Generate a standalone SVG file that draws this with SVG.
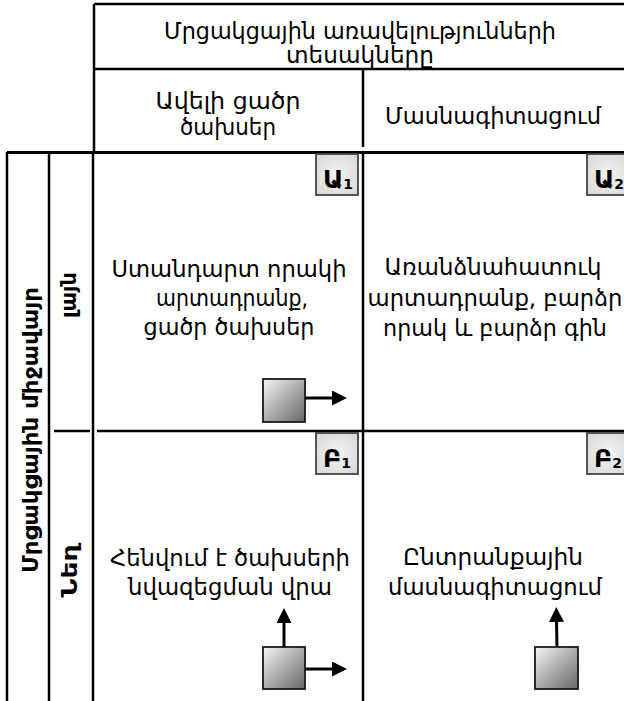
<svg xmlns="http://www.w3.org/2000/svg" width="624" height="701" viewBox="0 0 624 701">
<style>
.ln{stroke:#000;stroke-width:2.5;fill:none}
.t{font-family:"DejaVu Sans","Noto Sans",sans-serif;font-size:23px;fill:#000;text-anchor:middle}
.b{font-family:"DejaVu Sans","Noto Sans",sans-serif;font-size:22px;font-weight:bold;fill:#000;text-anchor:middle}
.badge{fill:url(#bg);stroke:#444;stroke-width:1.8}
.bt{font-family:"DejaVu Sans","Noto Sans",sans-serif;font-weight:bold;fill:#000}
.sq{fill:url(#sg);stroke:#1a1a1a;stroke-width:1.8}
.ar{stroke:#000;stroke-width:3;fill:none;marker-end:url(#ah)}
</style>
<defs>
<radialGradient id="bg" cx="0.5" cy="0.5" r="0.7">
<stop offset="0" stop-color="#f4f4f4"/>
<stop offset="1" stop-color="#d6d6d6"/>
</radialGradient>
<linearGradient id="sg" x1="0" y1="0" x2="1" y2="1">
<stop offset="0" stop-color="#f6f6f6"/>
<stop offset="0.45" stop-color="#b4b4b4"/>
<stop offset="1" stop-color="#666"/>
</linearGradient>
<marker id="ah" viewBox="0 0 10 10" refX="0" refY="5" markerWidth="5" markerHeight="5" orient="auto">
<path d="M0,0 L10,5 L0,10 z" fill="#000"/>
</marker>
</defs>
<rect width="624" height="701" fill="#fff"/>

<g id="grid">
<path class="ln" d="M94,4 H626 M94,4 V152 M94,69 H626 M363,69 V147"/>
<path class="ln" d="M7,152.5 H626" style="stroke-width:3"/>
<path class="ln" d="M7,152 V701 M49,152 V701 M93,152 V701 M363,152 V701"/>
<path class="ln" d="M54,431 H90 M97,431 H626"/>
</g>

<g id="header">
<text class="t" x="360" y="39" textLength="392" lengthAdjust="spacingAndGlyphs">Մրցակցային առավելությունների</text>
<text class="t" x="360" y="63" textLength="148" lengthAdjust="spacingAndGlyphs">տեսակները</text>
</g>
<g id="col-cost">
<text class="t" x="228" y="109" textLength="145" lengthAdjust="spacingAndGlyphs">Ավելի ցածր</text>
<text class="t" x="228" y="135" textLength="96" lengthAdjust="spacingAndGlyphs">ծախսեր</text>
</g>
<g id="col-diff">
<text class="t" x="493" y="124" textLength="216" lengthAdjust="spacingAndGlyphs">Մասնագիտացում</text>
</g>

<g id="row-axis">
<text class="b" transform="translate(38,430) rotate(-90)" textLength="286" lengthAdjust="spacingAndGlyphs">Մրցակցային միջավայր</text>
</g>
<g id="row-wide">
<text class="b" transform="translate(76,295) rotate(-90)" textLength="46" lengthAdjust="spacingAndGlyphs">լայն</text>
</g>
<g id="row-narrow">
<text class="b" transform="translate(77,571) rotate(-90)" textLength="53" lengthAdjust="spacingAndGlyphs">Նեղ</text>
</g>

<g id="cell-A1">
<rect class="badge" x="316" y="154" width="42" height="41"/>
<text class="bt" x="323" y="188" font-size="25">Ա<tspan font-size="14" dy="1">1</tspan></text>
<text class="t" x="229" y="277" textLength="235" lengthAdjust="spacingAndGlyphs">Ստանդարտ որակի</text>
<text class="t" x="232" y="306" textLength="152" lengthAdjust="spacingAndGlyphs">արտադրանք,</text>
<text class="t" x="229" y="335" textLength="171" lengthAdjust="spacingAndGlyphs">ցածր ծախսեր</text>
<rect class="sq" x="263" y="379" width="42" height="43"/>
</g>

<g id="cell-A2">
<rect class="badge" x="587" y="154" width="42" height="41"/>
<text class="bt" x="594" y="188" font-size="25">Ա<tspan font-size="14" dy="1">2</tspan></text>
<text class="t" x="493" y="275" textLength="217" lengthAdjust="spacingAndGlyphs">Առանձնահատուկ</text>
<text class="t" x="495" y="306" textLength="255" lengthAdjust="spacingAndGlyphs">արտադրանք, բարձր</text>
<text class="t" x="495" y="336" textLength="224" lengthAdjust="spacingAndGlyphs">որակ և բարձր գին</text>
</g>

<g id="cell-B1">
<rect class="badge" x="316" y="433" width="42" height="41"/>
<text class="bt" x="323" y="467" font-size="25">Բ<tspan font-size="14" dy="1">1</tspan></text>
<text class="t" x="230" y="566" textLength="240" lengthAdjust="spacingAndGlyphs">Հենվում է ծախսերի</text>
<text class="t" x="230" y="595" textLength="204" lengthAdjust="spacingAndGlyphs">նվազեցման վրա</text>
<rect class="sq" x="263" y="647" width="42" height="42"/>
</g>

<g id="cell-B2">
<rect class="badge" x="587" y="433" width="42" height="41"/>
<text class="bt" x="594" y="467" font-size="25">Բ<tspan font-size="14" dy="1">2</tspan></text>
<text class="t" x="493" y="565" textLength="180" lengthAdjust="spacingAndGlyphs">Ընտրանքային</text>
<text class="t" x="495" y="595" textLength="214" lengthAdjust="spacingAndGlyphs">մասնագիտացում</text>
<rect class="sq" x="535" y="647" width="43" height="42"/>
</g>

<g id="connectors">
<path class="ar" d="M305,398 H332"/>
<path class="ar" d="M305,669 H332"/>
<path class="ar" d="M284,647 V623"/>
<path class="ar" d="M557,647 L556.5,622"/>
</g>
</svg>
